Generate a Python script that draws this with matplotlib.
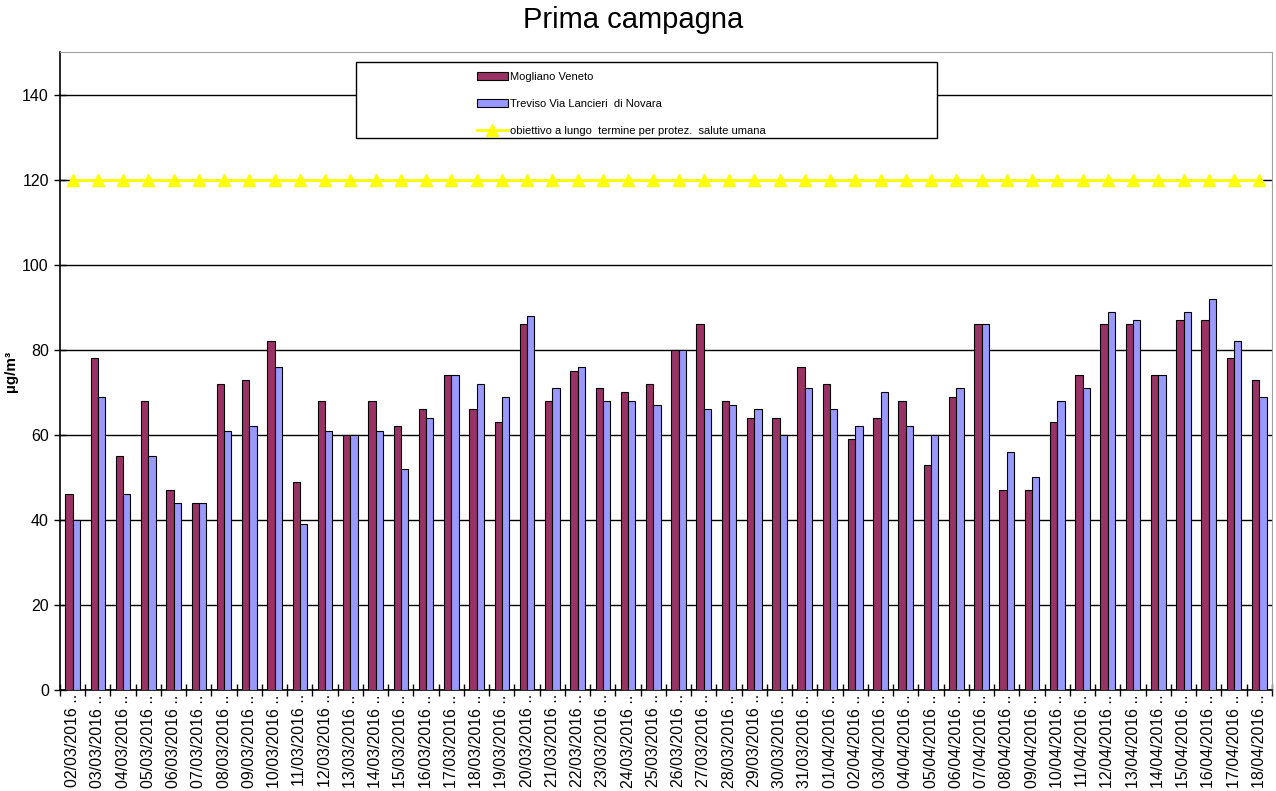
import matplotlib
matplotlib.use("Agg")
import matplotlib.pyplot as plt
import matplotlib.patches as patches
import numpy as np

plt.rcParams['font.family'] = ['Liberation Sans', 'DejaVu Sans']

# dates of the campaign
dates = ["%02d/03/2016" % d for d in range(2, 32)] + ["%02d/04/2016" % d for d in range(1, 19)]

mogliano = [46, 78, 55, 68, 47, 44, 72, 73, 82, 49, 68, 60, 68, 62, 66, 74,
            66, 63, 86, 68, 75, 71, 70, 72, 80, 86, 68, 64, 64, 76, 72, 59,
            64, 68, 53, 69, 86, 47, 47, 63, 74, 86, 86, 74, 87, 87, 78, 73]
treviso = [40, 69, 46, 55, 44, 44, 61, 62, 76, 39, 61, 60, 61, 52, 64, 74,
           72, 69, 88, 71, 76, 68, 68, 67, 80, 66, 67, 66, 60, 71, 66, 62,
           70, 62, 60, 71, 86, 56, 50, 68, 71, 89, 87, 74, 89, 92, 82, 69]
obiettivo = [120] * len(dates)

fig = plt.figure(figsize=(12.76, 7.91), dpi=100)
ax = fig.add_axes([0.047, 0.1277, 0.9498, 0.806])

x = np.arange(len(dates))
w = 0.29
b1 = ax.bar(x - w, mogliano, w, align='edge', color='#993366', edgecolor='black', linewidth=0.8,
            label='Mogliano Veneto', zorder=3)
b2 = ax.bar(x, treviso, w, align='edge', color='#9999FF', edgecolor='black', linewidth=0.8,
            label='Treviso Via Lancieri  di Novara', zorder=3)
ln, = ax.plot(x, obiettivo, color='#FFFF00', linewidth=2, marker='^', markersize=9,
              label='obiettivo a lungo  termine per protez.  salute umana', zorder=4)

ax.set_xlim(-0.5, len(dates) - 0.5)
ax.set_ylim(0, 150)
ax.set_yticks(range(0, 141, 20))
ax.yaxis.grid(True, color='black', linewidth=1)
ax.set_axisbelow(True)

ax.set_xticks(x)
ax.set_xticklabels([d + " .." for d in dates], rotation=90, fontsize=11.5)
ax.set_xticks(np.arange(-0.5, len(dates), 1), minor=True)
ax.tick_params(axis='x', which='major', length=0, pad=3)
ax.tick_params(axis='x', which='minor', length=9, direction='inout', width=1)
ax.tick_params(axis='y', length=9, direction='inout', labelsize=11.5, width=1)

for s in ['top', 'right']:
    ax.spines[s].set_color('#a0a0a0')
for s in ['left', 'bottom']:
    ax.spines[s].set_linewidth(1.2)

ax.set_ylabel('µg/m³', fontsize=11, fontweight='bold')
ax.yaxis.set_label_coords(-0.035, 0.5)

fig.text(0.496, 0.992, 'Prima campagna', ha='center', va='top', fontsize=21)

# legend box
box = patches.Rectangle((356 / 1276, 1 - 138 / 791), 581 / 1276, 76 / 791,
                        transform=fig.transFigure, facecolor='white', edgecolor='black',
                        linewidth=1, zorder=5)
fig.patches.append(box)
leg = fig.legend([b1, b2, ln], [b1.get_label(), b2.get_label(), ln.get_label()],
                 loc='upper left', bbox_to_anchor=(471 / 1276, 1 - 66 / 791),
                 frameon=False, fontsize=8, handlelength=2.8, handletextpad=0.25,
                 labelspacing=1.55, borderpad=0)
leg.set_zorder(6)

fig.savefig('out.png', dpi=100)
